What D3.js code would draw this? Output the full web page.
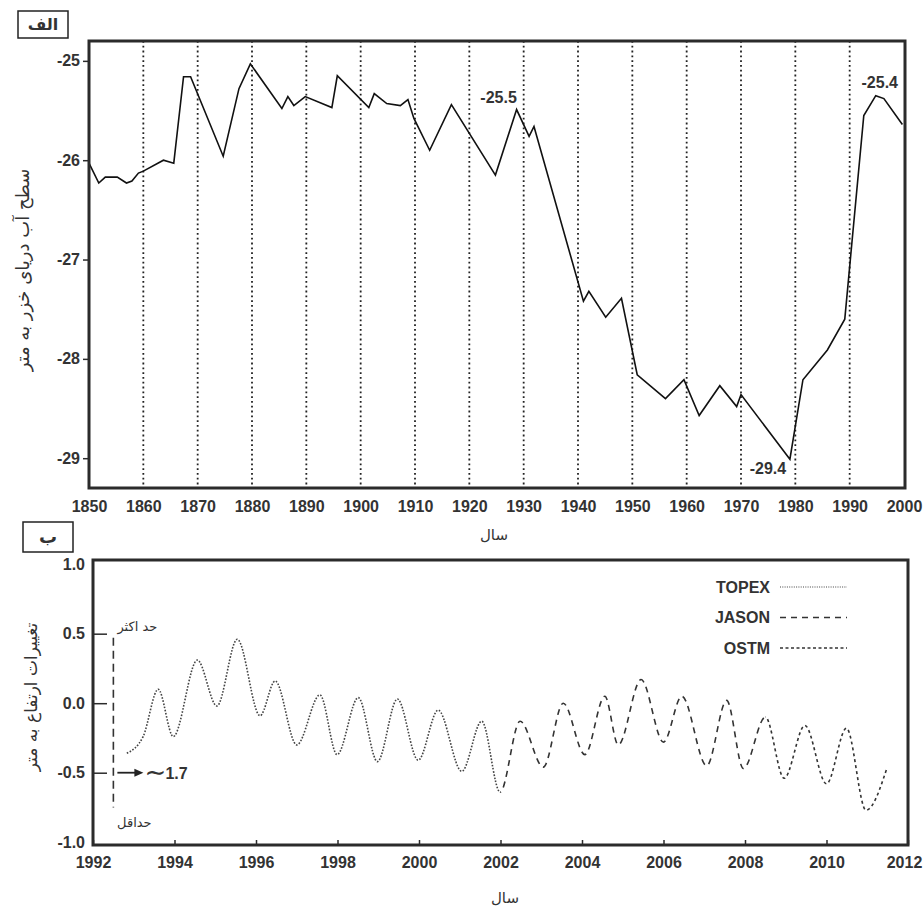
<!DOCTYPE html>
<html>
  <head>
    <meta charset="UTF-8" />
    <title>Caspian Sea level</title>
    <style>
      body,
      html {
        margin: 0;
        padding: 0;
        background: #fff;
        overflow: hidden;
      }
      svg {
        display: block;
        font-family: "Liberation Sans", Arial, sans-serif;
      }
      .tick text {
        font-size: 16px;
        font-weight: bold;
        fill: #333;
      }
      .fa {
        font-family: "DejaVu Sans", sans-serif;
        fill: #333;
      }
      .note {
        font-size: 16px;
        font-weight: bold;
        fill: #333;
      }
    </style>
  </head>
  <body>
    <svg id="chart" width="923" height="907"></svg>
    <script src="https://d3js.org/d3.v7.min.js"></script>
    <script>
      // panel الف : Caspian sea level, 1850-2000
      const levelYears = [
        1850, 1851.8, 1853, 1855.2, 1856.9, 1857.9, 1859.1, 1860, 1863.7, 1865.6,
        1867.4, 1868.7, 1874.7, 1877.6, 1879.7, 1885.5, 1886.6, 1887.7, 1889.8,
        1894.7, 1895.7, 1901.5, 1902.5, 1904.8, 1907.3, 1908.7, 1909.8, 1912.7,
        1916.7, 1924.8, 1928.7, 1931, 1931.9, 1941, 1942, 1945.1, 1948, 1950.9,
        1956.1, 1959.5, 1962.3, 1966.1, 1969.2, 1970, 1979, 1981.4, 1985.9,
        1989.1, 1992.6, 1994.8, 1996.3, 1999.7,
      ];
      const levelValues = [
        -26.03, -26.23, -26.17, -26.17, -26.23, -26.21, -26.13, -26.11, -26.0,
        -26.03, -25.16, -25.16, -25.96, -25.28, -25.03, -25.48, -25.36, -25.45,
        -25.36, -25.47, -25.15, -25.47, -25.33, -25.43, -25.45, -25.39, -25.58,
        -25.9, -25.44, -26.15, -25.49, -25.76, -25.66, -27.42, -27.32, -27.58,
        -27.39, -28.16, -28.4, -28.21, -28.57, -28.27, -28.48, -28.36, -29.01,
        -28.21, -27.91, -27.6, -25.55, -25.35, -25.38, -25.64,
      ];
      const levelTicksX = [
        1850, 1860, 1870, 1880, 1890, 1900, 1910, 1920, 1930, 1940, 1950, 1960,
        1970, 1980, 1990, 2000,
      ];
      const levelTicksY = [-25, -26, -27, -28, -29];
      const levelNoteText = ["-25.5", "-25.4", "-29.4"];
      const levelNoteYear = [1928.7, 1994.8, 1979];
      const levelNoteValue = [-25.49, -25.35, -29.01];

      // panel ب : altimetry anomalies 1992-2012
      const topexYears = [
        1992.83, 1993.23, 1993.6, 1993.97, 1994.56, 1995.04, 1995.54, 1996.1,
        1996.47, 1997.0, 1997.57, 1997.99, 1998.51, 1998.98, 1999.47, 1999.98,
        2000.47, 2001.05, 2001.54, 2001.99,
      ];
      const topexValues = [
        -0.36, -0.24, 0.1, -0.24, 0.31, -0.02, 0.46, -0.09, 0.16, -0.3, 0.06,
        -0.37, 0.04, -0.42, 0.03, -0.41, -0.05, -0.49, -0.13, -0.64,
      ];
      const jasonYears = [
        2001.99, 2002.48, 2003.05, 2003.54, 2004.07, 2004.56, 2004.89, 2005.45,
        2006.0, 2006.45, 2007.06, 2007.55, 2007.96, 2008.5,
      ];
      const jasonValues = [
        -0.64, -0.13, -0.46, 0.0, -0.37, 0.05, -0.3, 0.17, -0.28, 0.05, -0.45,
        0.02, -0.47, -0.1,
      ];
      const ostmYears = [2008.5, 2008.96, 2009.47, 2010.0, 2010.49, 2010.97, 2011.49];
      const ostmValues = [-0.1, -0.54, -0.16, -0.58, -0.18, -0.77, -0.46];
      const seriesNames = ["TOPEX", "JASON", "OSTM"];
      const anomTicksX = [1992, 1994, 1996, 1998, 2000, 2002, 2004, 2006, 2008, 2010, 2012];
      const anomTicksY = [1.0, 0.5, 0.0, -0.5, -1.0];
      const rangeYear = 1992.5;
      const rangeMax = 0.47;
      const rangeMin = -0.75;
      const rangeText = "1.7";

      const svg = d3.select("#chart");
      const ink = "#2b2b2b";
      const fmt1 = (d) => (d < 0 ? "-" + d3.format(".1f")(-d) : d3.format(".1f")(d));
      const fmtInt = (d) => (d < 0 ? "-" + -d : String(d));

      // ---------- panel الف ----------
      const x1 = d3.scaleLinear().domain([1850, 2000]).range([89, 904]);
      const y1 = d3.scaleLinear().domain([-24.8, -29.3]).range([41, 488]);

      const topPanel = svg.append("g");

      // dotted decade lines
      topPanel
        .selectAll(".grid")
        .data(levelTicksX.slice(1, -1))
        .enter()
        .append("line")
        .attr("x1", (d) => x1(d))
        .attr("x2", (d) => x1(d))
        .attr("y1", y1.range()[0])
        .attr("y2", y1.range()[1])
        .attr("stroke", "#222")
        .attr("stroke-width", 1.8)
        .attr("stroke-dasharray", "1.8,3");

      const line1 = d3
        .line()
        .x((d, i) => x1(levelYears[i]))
        .y((d) => y1(d));

      topPanel
        .append("path")
        .datum(levelValues)
        .attr("d", line1)
        .attr("fill", "none")
        .attr("stroke", "#111")
        .attr("stroke-width", 1.6);

      const yAxis1 = topPanel
        .append("g")
        .attr("transform", `translate(${x1.range()[0]},0)`)
        .call(d3.axisLeft(y1).tickValues(levelTicksY).tickSize(6).tickPadding(3).tickFormat(fmtInt));
      yAxis1.select(".domain").remove();
      yAxis1.selectAll(".tick line").attr("stroke", ink).attr("stroke-width", 1.5);

      const xAxis1 = topPanel
        .append("g")
        .attr("transform", `translate(0,${y1.range()[1]})`)
        .call(d3.axisBottom(x1).tickValues(levelTicksX).tickSize(0).tickPadding(13).tickFormat(fmtInt));
      xAxis1.select(".domain").remove();

      topPanel
        .append("rect")
        .attr("x", x1.range()[0])
        .attr("y", y1.range()[0])
        .attr("width", x1.range()[1] - x1.range()[0] + 1)
        .attr("height", y1.range()[1] - y1.range()[0])
        .attr("fill", "none")
        .attr("stroke", ink)
        .attr("stroke-width", 3);

      const noteOffsets = [
        [-18, -7],
        [4, -8],
        [-22, 15],
      ];
      topPanel
        .selectAll(".note")
        .data(levelNoteText)
        .enter()
        .append("text")
        .attr("class", "note")
        .attr("text-anchor", "middle")
        .attr("x", (d, i) => x1(levelNoteYear[i]) + noteOffsets[i][0])
        .attr("y", (d, i) => y1(levelNoteValue[i]) + noteOffsets[i][1])
        .text((d) => d);

      // panel letter
      topPanel.append("rect").attr("x", 18).attr("y", 11).attr("width", 50).attr("height", 27)
        .attr("fill", "#fff").attr("stroke", "#222").attr("stroke-width", 1.5);
      topPanel.append("text").attr("class", "fa").attr("x", 43).attr("y", 30)
        .attr("text-anchor", "middle").attr("font-size", 16).attr("font-weight", "bold").text("الف");

      topPanel
        .append("text")
        .attr("class", "fa")
        .attr("transform", "translate(29,270) rotate(-90)")
        .attr("text-anchor", "middle")
        .attr("font-size", 18)
        .text("سطح آب دریای خزر به متر");

      topPanel.append("text").attr("class", "fa").attr("x", 494).attr("y", 540)
        .attr("text-anchor", "middle").attr("font-size", 15).text("سال");

      // ---------- panel ب ----------
      const x2 = d3.scaleLinear().domain([1992, 2012]).range([93, 908]);
      const y2 = d3.scaleLinear().domain([1.03, -1.02]).range([560, 845]);

      const bot = svg.append("g");

      const styles = [
        { dash: "1.6,1.6", width: 1.6, color: "#444" },
        { dash: "6,5", width: 1.6, color: "#333" },
        { dash: "3,3", width: 1.6, color: "#333" },
      ];
      const seriesYears = [topexYears, jasonYears, ostmYears];
      const seriesValues = [topexValues, jasonValues, ostmValues];

      // one smooth curve through all missions, each mission's span clipped out with its own dash
      const allYears = topexYears.concat(jasonYears.slice(1), ostmYears.slice(1));
      const allValues = topexValues.concat(jasonValues.slice(1), ostmValues.slice(1));
      const line2 = d3
        .line()
        .curve(d3.curveMonotoneX)
        .x((d, i) => x2(allYears[i]))
        .y((d) => y2(d));

      const defs = svg.append("defs");
      seriesYears.forEach((yrs, k) => {
        defs
          .append("clipPath")
          .attr("id", "clip" + k)
          .append("rect")
          .attr("x", k === 0 ? 0 : x2(yrs[0]))
          .attr("y", 0)
          .attr("width", x2(yrs[yrs.length - 1]) - (k === 0 ? 0 : x2(yrs[0])) + (k === 2 ? 20 : 0))
          .attr("height", 907);
        bot
          .append("path")
          .datum(allValues)
          .attr("d", line2)
          .attr("clip-path", `url(#clip${k})`)
          .attr("fill", "none")
          .attr("stroke", styles[k].color)
          .attr("stroke-width", styles[k].width)
          .attr("stroke-dasharray", styles[k].dash);
      });

      const yAxis2 = bot
        .append("g")
        .attr("transform", `translate(${x2.range()[0]},0)`)
        .call(d3.axisLeft(y2).tickValues(anomTicksY).tickSize(-14).tickPadding(8).tickFormat(fmt1));
      yAxis2.select(".domain").remove();
      yAxis2
        .selectAll(".tick line")
        .attr("stroke", ink)
        .attr("stroke-width", 1.5)
        .attr("display", (d) => (Math.abs(d) === 1 ? "none" : null));

      const xAxis2 = bot
        .append("g")
        .attr("transform", `translate(0,${y2.range()[1]})`)
        .call(d3.axisBottom(x2).tickValues(anomTicksX).tickSize(-5).tickPadding(12).tickFormat(fmtInt));
      xAxis2.select(".domain").remove();
      xAxis2.selectAll(".tick line").attr("stroke", ink).attr("stroke-width", 1.5);
      xAxis2.selectAll(".tick text").attr("dx", (d) => (d === 2012 ? -4 : 0));

      bot
        .append("rect")
        .attr("x", x2.range()[0])
        .attr("y", y2.range()[0])
        .attr("width", x2.range()[1] - x2.range()[0])
        .attr("height", y2.range()[1] - y2.range()[0])
        .attr("fill", "none")
        .attr("stroke", ink)
        .attr("stroke-width", 3);

      // range marker
      bot
        .append("line")
        .attr("x1", x2(rangeYear))
        .attr("x2", x2(rangeYear))
        .attr("y1", y2(rangeMax))
        .attr("y2", y2(rangeMin))
        .attr("stroke", "#333")
        .attr("stroke-width", 1.6)
        .attr("stroke-dasharray", "8,5");
      bot.append("text").attr("class", "fa").attr("x", x2(rangeYear) + 24).attr("y", y2(rangeMax) - 7)
        .attr("text-anchor", "middle").attr("font-size", 13).text("حد اکثر");
      bot.append("text").attr("class", "fa").attr("x", x2(rangeYear) + 21).attr("y", y2(rangeMin) + 20)
        .attr("text-anchor", "middle").attr("font-size", 13).text("حداقل");

      const arrowY = y2(-0.5);
      const ax0 = x2(rangeYear) + 4;
      bot.append("line").attr("x1", ax0).attr("x2", ax0 + 20).attr("y1", arrowY).attr("y2", arrowY)
        .attr("stroke", "#222").attr("stroke-width", 1.8);
      bot.append("path")
        .attr("d", `M${ax0 + 26},${arrowY} L${ax0 + 17},${arrowY - 4} L${ax0 + 17},${arrowY + 4} Z`)
        .attr("fill", "#222");
      bot.append("text").attr("x", ax0 + 27).attr("y", arrowY + 8).attr("font-size", 26)
        .attr("font-family", "DejaVu Sans").attr("fill", "#333").text("∼");
      bot.append("text").attr("class", "note").attr("x", ax0 + 48).attr("y", arrowY + 6).text(rangeText);

      // legend
      const legend = bot.append("g");
      seriesNames.forEach((name, k) => {
        const ly = 587 + k * 30.5;
        legend.append("text").attr("class", "note").attr("x", 770).attr("y", ly + 5.5)
          .attr("text-anchor", "end").attr("font-size", 15.5).text(name);
        legend.append("line").attr("x1", 780).attr("x2", 847).attr("y1", ly).attr("y2", ly)
          .attr("stroke", styles[k].color).attr("stroke-width", k === 0 ? 1.1 : 1.5)
          .attr("stroke-dasharray", k === 0 ? "1,1.3" : k === 1 ? "6,5" : "3,2.5");
      });

      bot.append("rect").attr("x", 23).attr("y", 522).attr("width", 50).attr("height", 30)
        .attr("fill", "#fff").attr("stroke", "#222").attr("stroke-width", 1.5);
      bot.append("text").attr("class", "fa").attr("x", 48).attr("y", 543)
        .attr("text-anchor", "middle").attr("font-size", 18).attr("font-weight", "bold").text("ب");

      bot
        .append("text")
        .attr("class", "fa")
        .attr("transform", "translate(37,697) rotate(-90)")
        .attr("text-anchor", "middle")
        .attr("font-size", 17)
        .text("تغییرات ارتفاع به متر");

      bot.append("text").attr("class", "fa").attr("x", 505).attr("y", 903)
        .attr("text-anchor", "middle").attr("font-size", 15).text("سال");
    </script>
  </body>
</html>
